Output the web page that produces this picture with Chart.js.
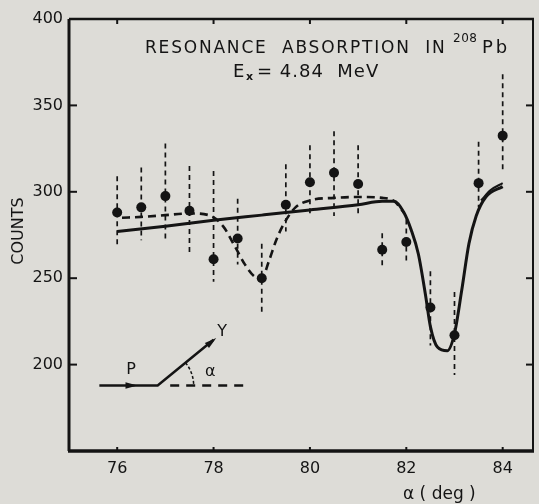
<!DOCTYPE html>
<html>
<head>
<meta charset="utf-8">
<script src="https://cdn.jsdelivr.net/npm/chart.js@4.4.1/dist/chart.umd.min.js"></script>
<style>
  html, body { margin: 0; padding: 0; background: #dddcd7; }
  #wrap { width: 539px; height: 504px; }
</style>
</head>
<body>
<div id="wrap"><canvas id="chart" width="539" height="504"></canvas></div>
<script>
// Data
const angles   = [76, 76.5, 77, 77.5, 78, 78.5, 79, 79.5, 80, 80.5, 81, 81.5, 82, 82.5, 83, 83.5, 84];
const counts   = [288, 291, 297.5, 289, 261, 273, 250, 292.5, 305.5, 311, 304.5, 266.5, 271, 233, 217, 305, 332.5];
const errHigh  = [309, 314, 328, 315, 312, 296, 270, 316, 327, 335, 327, 276, 284, 254, 242, 329, 368];
const errLow   = [268, 272, 273, 263, 248, 258, 229, 277, 287, 286, 287, 256, 260, 211, 194, 291, 312];

// fitted curves
const solidX = [76, 77, 78, 79, 80, 81, 81.5, 81.75, 81.95, 82.1, 82.25, 82.4, 82.5, 82.65, 82.85, 83.0, 83.15, 83.3, 83.45, 83.65, 84.0];
const solidY = [277, 280, 283.5, 286.5, 289.5, 292.5, 294.5, 294.5, 288, 278, 264, 240, 222, 210, 208, 218, 243, 270, 286, 297, 303];
const dashX  = [76.1, 76.5, 77, 77.5, 77.9, 78.2, 78.45, 78.65, 78.85, 79.0, 79.15, 79.3, 79.45, 79.7, 80, 80.5, 81, 81.5, 81.75, 81.95];
const dashY  = [285, 285.5, 286.5, 287.5, 286.5, 280, 268, 258, 251, 250, 260, 272, 281, 291, 295, 296.5, 297, 296.5, 294.5, 288];
const dashEndX = [83.55, 83.75, 84.0];
const dashEndY = [295, 301, 305];

// axes
const xTicks = [76, 78, 80, 82, 84];
const yTicks = [150, 200, 250, 300, 350, 400];
const yLabels = [200, 250, 300, 350, 400];

// little beam sketch (in axis units)
const beamX = [75.63, 76.84, 78.0];
const beamY = [187.9, 187.9, 214.4];
const refX  = [77.1, 78.72];
const refY  = [187.9, 187.9];

const INK = '#141414';
const FONT = '"DejaVu Sans", sans-serif';

const pts = (xs, ys) => xs.map((x, i) => ({ x: x, y: ys[i] }));

// error bars, frame, inward ticks, texts
const extras = {
  id: 'extras',
  beforeDatasetsDraw(chart) {
    const ctx = chart.ctx, xs = chart.scales.x, ys = chart.scales.y;
    ctx.save();
    ctx.strokeStyle = INK;
    ctx.lineWidth = 1.7;
    ctx.setLineDash([5, 4]);
    angles.forEach((a, i) => {
      const px = xs.getPixelForValue(a);
      ctx.beginPath();
      ctx.moveTo(px, ys.getPixelForValue(errHigh[i]));
      ctx.lineTo(px, ys.getPixelForValue(errLow[i]));
      ctx.stroke();
    });
    ctx.restore();
  },
  afterDraw(chart) {
    const ctx = chart.ctx, a = chart.chartArea;
    const xs = chart.scales.x, ys = chart.scales.y;
    ctx.save();
    ctx.strokeStyle = INK;
    ctx.fillStyle = INK;
    ctx.setLineDash([]);

    // frame
    ctx.lineWidth = 3;
    ctx.beginPath(); ctx.moveTo(a.left, a.top); ctx.lineTo(a.left, a.bottom); ctx.stroke();
    ctx.lineWidth = 3.5;
    ctx.beginPath(); ctx.moveTo(a.left - 1, a.bottom); ctx.lineTo(a.right, a.bottom); ctx.stroke();
    ctx.lineWidth = 2.5;
    ctx.beginPath(); ctx.moveTo(a.left, a.top); ctx.lineTo(a.right, a.top); ctx.stroke();
    ctx.lineWidth = 2;
    ctx.beginPath(); ctx.moveTo(a.right - 1, a.top); ctx.lineTo(a.right - 1, a.bottom); ctx.stroke();

    // inward ticks
    ctx.lineWidth = 2;
    yLabels.slice(0, 4).forEach(v => {
      const py = ys.getPixelForValue(v);
      ctx.beginPath(); ctx.moveTo(a.left, py); ctx.lineTo(a.left + 8, py); ctx.stroke();
      ctx.beginPath(); ctx.moveTo(a.right, py); ctx.lineTo(a.right - 8, py); ctx.stroke();
    });
    xTicks.forEach(v => {
      const px = xs.getPixelForValue(v);
      ctx.beginPath(); ctx.moveTo(px, a.top); ctx.lineTo(px, a.top + 5); ctx.stroke();
      ctx.beginPath(); ctx.moveTo(px, a.bottom); ctx.lineTo(px, a.bottom - 4); ctx.stroke();
    });

    // beam arrowheads
    const arrow = (x, y, ang, s) => {
      ctx.save();
      ctx.translate(x, y); ctx.rotate(ang);
      ctx.beginPath(); ctx.moveTo(s, 0); ctx.lineTo(-s, -s * 0.55); ctx.lineTo(-s, s * 0.55); ctx.closePath(); ctx.fill();
      ctx.restore();
    };
    const bx0 = xs.getPixelForValue(beamX[0]), bx1 = xs.getPixelForValue(beamX[1]), bx2 = xs.getPixelForValue(beamX[2]);
    const by1 = ys.getPixelForValue(beamY[1]), by2 = ys.getPixelForValue(beamY[2]);
    arrow((bx0 + bx1) / 2 + 3, by1, 0, 6);
    const ang = Math.atan2(by2 - by1, bx2 - bx1);
    arrow(bx2 - 2, by2 + 2, ang, 6);

    // angle arc
    ctx.lineWidth = 1.5;
    ctx.setLineDash([3, 2]);
    ctx.beginPath(); ctx.arc(bx1, by1, 36, ang, 0); ctx.stroke();
    ctx.setLineDash([]);

    // labels in the sketch
    ctx.font = '16px ' + FONT;
    ctx.textAlign = 'center'; ctx.textBaseline = 'middle';
    ctx.fillText('P', xs.getPixelForValue(76.29), ys.getPixelForValue(197.1));
    ctx.fillText('Y', xs.getPixelForValue(78.18), ys.getPixelForValue(219));
    ctx.fillText('α', xs.getPixelForValue(77.93), ys.getPixelForValue(196));

    // title
    ctx.font = '17px ' + FONT;
    ctx.textAlign = 'left'; ctx.textBaseline = 'alphabetic';
    ctx.letterSpacing = '1.8px';
    ctx.fillText('RESONANCE  ABSORPTION  IN', 145, 53);
    ctx.font = '12px ' + FONT;
    ctx.letterSpacing = '0.5px';
    ctx.fillText('208', 453, 42);
    ctx.font = '18px ' + FONT;
    ctx.letterSpacing = '3px';
    ctx.fillText('Pb', 482, 53);
    ctx.letterSpacing = '0px';
    ctx.font = '18px ' + FONT;
    ctx.fillText('E', 233, 77);
    ctx.font = 'bold 11px ' + FONT;
    ctx.fillText('x', 246, 80);
    ctx.font = '18px ' + FONT;
    ctx.letterSpacing = '1px';
    ctx.fillText('= 4.84  MeV', 257, 77);
    ctx.letterSpacing = '0px';

    // axis titles
    ctx.font = '17px ' + FONT;
    ctx.fillText('α ( deg )', 403, 499);
    ctx.font = '16px ' + FONT;
    ctx.translate(19, 231);
    ctx.rotate(-Math.PI / 2);
    ctx.textAlign = 'center'; ctx.textBaseline = 'middle';
    ctx.fillText('COUNTS', 0, 0);
    ctx.restore();
  }
};

new Chart(document.getElementById('chart'), {
  type: 'scatter',
  data: {
    datasets: [
      { data: pts(angles, counts), pointRadius: 5, pointHoverRadius: 5, backgroundColor: INK, borderWidth: 0, showLine: false },
      { data: pts(solidX, solidY), showLine: true, pointRadius: 0, borderColor: INK, borderWidth: 3, cubicInterpolationMode: 'monotone' },
      { data: pts(dashX, dashY), showLine: true, pointRadius: 0, borderColor: INK, borderWidth: 2.6, borderDash: [8, 5], cubicInterpolationMode: 'monotone' },
      { data: pts(dashEndX, dashEndY), showLine: true, pointRadius: 0, borderColor: INK, borderWidth: 2, cubicInterpolationMode: 'monotone' },
      { data: pts(beamX, beamY), showLine: true, pointRadius: 0, borderColor: INK, borderWidth: 2.5, tension: 0 },
      { data: pts(refX, refY), showLine: true, pointRadius: 0, borderColor: INK, borderWidth: 2.5, borderDash: [9, 7], tension: 0 }
    ]
  },
  options: {
    responsive: false,
    animation: false,
    layout: { padding: { top: 19, right: 1, left: 0, bottom: 0 } },
    plugins: { legend: { display: false }, tooltip: { enabled: false } },
    scales: {
      x: {
        type: 'linear', min: 75, max: 84.65,
        afterBuildTicks: s => { s.ticks = xTicks.map(v => ({ value: v })); },
        afterFit: s => { s.height = 53; },
        grid: { display: false, drawTicks: false },
        border: { display: false },
        ticks: { color: INK, font: { family: FONT, size: 16 }, padding: 8 }
      },
      y: {
        type: 'linear', min: 150, max: 400,
        afterBuildTicks: s => { s.ticks = yTicks.map(v => ({ value: v })); },
        afterFit: s => { s.width = 69; },
        grid: { display: false, drawTicks: false },
        border: { display: false },
        ticks: { color: INK, font: { family: FONT, size: 16 }, padding: 6,
                 callback: v => yLabels.includes(v) ? String(v) : '' }
      }
    }
  },
  plugins: [extras]
});
</script>
</body>
</html>
